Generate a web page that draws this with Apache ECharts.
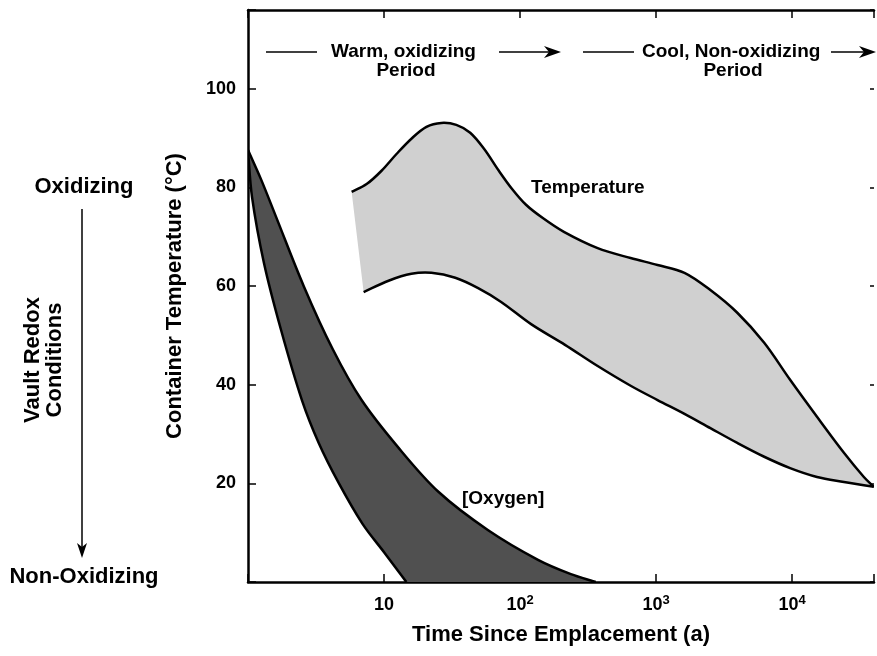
<!DOCTYPE html>
<html>
<head>
<meta charset="utf-8">
<script src="https://cdn.jsdelivr.net/npm/echarts@6/dist/echarts.min.js"></script>
<style>
html, body { margin: 0; padding: 0; background: #fff; }
#echart { width: 877px; height: 656px; }
</style>
</head>
<body>
<div id="echart"></div>
<script>
// Temperature band (years, degC)
var tempUpperX = [5.78, 7.45, 9.59, 12.35, 15.9, 20.5, 26.4, 34.0, 43.0, 54.5, 69.0, 87.4, 110.6, 147, 210, 372, 650, 1025, 1617, 2507, 3954, 6237, 9666, 15240, 24040, 33690, 39900];
var tempUpperY = [79.1, 80.7, 83.4, 86.8, 89.9, 92.3, 93.1, 92.7, 91.1, 87.8, 83.6, 79.7, 76.5, 73.8, 71.0, 67.7, 65.7, 64.3, 62.7, 59.2, 54.6, 48.5, 41.0, 33.5, 26.2, 21.3, 19.3];
var tempLowerX = [7.08, 10.8, 15.9, 22.3, 33.4, 49.2, 72.6, 120.5, 214, 372, 650, 1025, 1617, 2507, 3954, 6237, 9666, 15240, 24040, 39900];
var tempLowerY = [58.8, 61.1, 62.5, 62.7, 61.7, 59.6, 56.8, 52.3, 48.1, 43.8, 39.8, 36.9, 34.1, 31.2, 28.2, 25.4, 23.1, 21.3, 20.3, 19.3];
// Oxygen band (drawn on the same scale)
var oxyOuterX = [1, 1.245, 1.60, 2.57, 4.20, 6.84, 12.8, 25.1, 58.3, 135.5, 236.5, 360];
var oxyOuterY = [87.6, 81.7, 74.2, 60.0, 47.2, 36.9, 27.2, 18.3, 10.5, 4.5, 1.6, 0];
var oxyInnerX = [1, 1.07, 1.31, 1.75, 2.49, 3.31, 4.64, 6.95, 10.1, 14.6];
var oxyInnerY = [87.6, 78.1, 64.7, 51.1, 36.9, 28.2, 20.1, 11.8, 5.9, 0];
// tick labels
var xTickExps = [1, 2, 3, 4];
var yTickVals = [20, 40, 60, 80, 100];

var FONT = '"Liberation Sans", Arial, Helvetica, sans-serif';
var myChart = echarts.init(document.getElementById('echart'));

function pts(api, xs, ys) {
	return xs.map(function (x, i) { return api.coord([x, ys[i]]); });
}
// smooth curve through the projected points (tangent = neighbour chord)
function splinePath(p, start) {
	var n = p.length;
	var dir = p.map(function (pt, i) {
		var a = p[Math.max(i - 1, 0)], b = p[Math.min(i + 1, n - 1)];
		var dx = b[0] - a[0], dy = b[1] - a[1], L = Math.sqrt(dx * dx + dy * dy) || 1;
		return [dx / L, dy / L];
	});
	var d = (start ? 'M' : 'L') + p[0][0] + ' ' + p[0][1];
	for (var i = 0; i < n - 1; i++) {
		var s = Math.sqrt(Math.pow(p[i + 1][0] - p[i][0], 2) + Math.pow(p[i + 1][1] - p[i][1], 2)) / 3;
		d += ' C' + (p[i][0] + dir[i][0] * s) + ' ' + (p[i][1] + dir[i][1] * s) + ' ' +
			(p[i + 1][0] - dir[i + 1][0] * s) + ' ' + (p[i + 1][1] - dir[i + 1][1] * s) + ' ' +
			p[i + 1][0] + ' ' + p[i + 1][1];
	}
	return d;
}
function band(upX, upY, loX, loY, fill) {
	return function (params, api) {
		var up = pts(api, upX, upY);
		var lo = pts(api, loX, loY);
		var line = { fill: 'none', stroke: '#000', lineWidth: 2.5 };
		return {
			type: 'group',
			children: [
				{ type: 'path', shape: { pathData: splinePath(up, true) + ' ' + splinePath(lo.slice().reverse(), false) + ' Z' }, style: { fill: fill } },
				{ type: 'path', shape: { pathData: splinePath(up, true) }, style: line },
				{ type: 'path', shape: { pathData: splinePath(lo, true) }, style: line }
			]
		};
	};
}

function arrowHead(x, y, dir) {
	// dir: 'right' or 'down'
	if (dir === 'right') return [[x, y], [x - 17, y - 6], [x - 12, y], [x - 17, y + 6]];
	return [[x, y], [x - 5, y - 15], [x, y - 11], [x + 5, y - 15]];
}
var txt = function (x, y, text, size, align, extra) {
	var el = {
		type: 'text', x: x, y: y,
		style: { text: text, fontSize: size, fontWeight: 'bold', fontFamily: FONT, fill: '#000', align: align || 'center', verticalAlign: 'middle' }
	};
	for (var k in extra) el[k] = extra[k];
	return el;
};
var hline = function (x1, x2, y) {
	return { type: 'line', shape: { x1: x1, y1: y, x2: x2, y2: y }, style: { stroke: '#000', lineWidth: 1.5 } };
};

var xAxisBase = {
	type: 'log',
	logBase: 10,
	min: 1,
	max: 40000,
	axisLine: { onZero: false, lineStyle: { color: '#000', width: 2.5 } },
	axisTick: { inside: true, length: 8, lineStyle: { color: '#000', width: 1.5 } },
	splitLine: { show: false },
	minorTick: { show: false }
};

option = {
	animation: false,
	textStyle: { fontFamily: FONT },
	grid: { left: 248, top: 10, right: 0, bottom: 74 },
	xAxis: [
		Object.assign({}, xAxisBase, {
			position: 'bottom',
			name: 'Time Since Emplacement (a)',
			nameLocation: 'middle',
			nameGap: 42,
			nameTextStyle: { fontSize: 22, fontWeight: 'bold', color: '#000', fontFamily: FONT },
			axisLabel: {
				margin: 12,
				color: '#000',
				fontSize: 18,
				fontWeight: 'bold',
				formatter: function (v) {
					var l = Math.log10(v);
					var e = Math.round(l);
					if (Math.abs(l - e) > 1e-6 || xTickExps.indexOf(e) < 0) return '';
					return e === 1 ? '{n|10}' : '{n|10}{s|' + e + '}';
				},
				rich: {
					n: { fontSize: 18, fontWeight: 'bold', fontFamily: FONT, lineHeight: 22 },
					s: { fontSize: 13, fontWeight: 'bold', fontFamily: FONT, verticalAlign: 'top', lineHeight: 12 }
				}
			}
		}),
		Object.assign({}, xAxisBase, {
			position: 'top',
			axisLabel: { show: false }
		})
	],
	yAxis: [{
		type: 'value',
		min: 0,
		max: 116,
		interval: 20,
		position: 'left',
		name: 'Container Temperature (\u00b0C)',
		nameLocation: 'middle',
		nameGap: 62,
		nameTextStyle: { fontSize: 22, fontWeight: 'bold', color: '#000', fontFamily: FONT },
		axisLine: { show: true, onZero: false, lineStyle: { color: '#000', width: 2.5 } },
		axisTick: { inside: true, length: 8, lineStyle: { color: '#000', width: 1.5 } },
		splitLine: { show: false },
		axisLabel: {
			margin: 12,
			color: '#000',
			fontSize: 18,
			fontWeight: 'bold',
			formatter: function (v) { return yTickVals.indexOf(v) >= 0 ? String(v) : ''; }
		}
	}, {
		type: 'value',
		min: 0,
		max: 116,
		interval: 20,
		position: 'right',
		axisLine: { show: false, onZero: false },
		axisTick: { show: true, inside: true, length: 4, lineStyle: { color: '#000', width: 1.5 } },
		splitLine: { show: false },
		axisLabel: { show: false }
	}],
	series: [{
		name: 'Temperature',
		type: 'custom',
		clip: true,
		silent: true,
		data: [[1, 0]],
		renderItem: band(tempUpperX, tempUpperY, tempLowerX, tempLowerY, '#d0d0d0')
	}, {
		name: '[Oxygen]',
		type: 'custom',
		clip: true,
		silent: true,
		data: [[1, 0]],
		renderItem: band(oxyOuterX, oxyOuterY, oxyInnerX, oxyInnerY, '#505050')
	}],
	graphic: [
		// top annotations
		hline(266, 317, 52),
		txt(331, 52, 'Warm, oxidizing', 19, 'left'),
		hline(499, 552, 52),
		{ type: 'polygon', shape: { points: arrowHead(561, 52, 'right') }, style: { fill: '#000' } },
		txt(406, 71, 'Period', 19),
		hline(583, 634, 52),
		txt(642, 52, 'Cool, Non-oxidizing', 19, 'left'),
		hline(831, 866, 52),
		{ type: 'polygon', shape: { points: arrowHead(876, 52, 'right') }, style: { fill: '#000' } },
		txt(733, 71, 'Period', 19),
		// curve labels
		txt(531, 188, 'Temperature', 19, 'left'),
		txt(462, 499, '[Oxygen]', 19, 'left'),
		// left redox annotation
		txt(84, 187, 'Oxidizing', 22),
		{ type: 'line', shape: { x1: 82, y1: 209, x2: 82, y2: 548 }, style: { stroke: '#000', lineWidth: 1.5 } },
		{ type: 'polygon', shape: { points: arrowHead(82, 558, 'down') }, style: { fill: '#000' } },
		txt(44, 360, 'Vault Redox\nConditions', 22, 'center', { rotation: Math.PI / 2 }),
		txt(84, 577, 'Non-Oxidizing', 22)
	]
};
myChart.setOption(option);
</script>
</body>
</html>
